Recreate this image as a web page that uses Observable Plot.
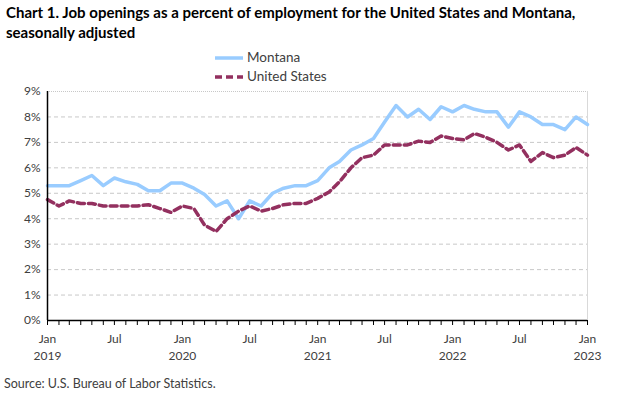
<!DOCTYPE html>
<html>
<head>
<meta charset="utf-8">
<script src="https://cdn.jsdelivr.net/npm/d3@7"></script>
<script src="https://cdn.jsdelivr.net/npm/@observablehq/plot@0.6"></script>
<style>
  body { margin: 0; background: #fff; font-family: Lato, "Open Sans", sans-serif; }
  #wrap { position: relative; width: 624px; height: 396px; overflow: hidden; }
  #title { position: absolute; left: 6px; top: 2px; font-weight: bold; font-size: 15px; line-height: 20px; color: #000; white-space: nowrap; }
  .leg { position: absolute; left: 215px; font-size: 13.5px; color: #404040; white-space: nowrap; }
  .leg svg { position: absolute; left: 0; top: 5px; }
  .leg span { position: absolute; left: 32px; top: 0; }
  #chart { position: absolute; left: 0; top: 83px; }
  #source { position: absolute; left: 4px; top: 376px; font-size: 12.5px; color: #404040; }
</style>
</head>
<body>
<div id="wrap">
  <div id="title">Chart 1. Job openings as a percent of employment for the United States and Montana,<br>seasonally adjusted</div>
  <div class="leg" style="top:49px"><svg width="28" height="8"><line x1="0" x2="28" y1="4" y2="4" stroke="#99CCFF" stroke-width="3.5"/></svg><span>Montana</span></div>
  <div class="leg" style="top:68px"><svg width="28" height="8"><line x1="0" x2="28" y1="4" y2="4" stroke="#93305F" stroke-width="3.5" stroke-dasharray="7,4"/></svg><span>United States</span></div>
  <div id="chart"></div>
  <div id="source">Source: U.S. Bureau of Labor Statistics.</div>
</div>
<script>
const startMonth = "2019-01";
const endMonth = "2023-01";
const seriesNames = ["Montana", "United States"];
const montana = [
  5.3, 5.3, 5.3, 5.5, 5.7, 5.3, 5.6, 5.45, 5.35, 5.1, 5.1, 5.4,
  5.4, 5.2, 4.95, 4.5, 4.7, 4.0, 4.7, 4.5, 5.0, 5.2, 5.3, 5.3,
  5.5, 6.0, 6.25, 6.7, 6.9, 7.15, 7.8, 8.45, 8.0, 8.3, 7.9, 8.4,
  8.2, 8.45, 8.3, 8.2, 8.2, 7.6, 8.2, 8.0, 7.7, 7.7, 7.5, 8.0,
  7.7
];
const unitedStates = [
  4.75, 4.5, 4.7, 4.6, 4.6, 4.5, 4.5, 4.5, 4.5, 4.55, 4.4, 4.25,
  4.5, 4.4, 3.75, 3.5, 4.0, 4.3, 4.5, 4.3, 4.4, 4.55, 4.6, 4.6,
  4.8, 5.05, 5.45, 6.0, 6.4, 6.5, 6.9, 6.9, 6.9, 7.05, 7.0, 7.25,
  7.15, 7.1, 7.35, 7.2, 7.0, 6.7, 6.9, 6.25, 6.6, 6.4, 6.5, 6.8,
  6.5
];
const yTicks = [0, 1, 2, 3, 4, 5, 6, 7, 8, 9];
const xTickLabels = [
  ["2019-01", "Jan\n2019"], ["2019-07", "Jul"],
  ["2020-01", "Jan\n2020"], ["2020-07", "Jul"],
  ["2021-01", "Jan\n2021"], ["2021-07", "Jul"],
  ["2022-01", "Jan\n2022"], ["2022-07", "Jul"],
  ["2023-01", "Jan\n2023"]
];

const parse = d3.utcParse("%Y-%m");
const months = d3.utcMonth.range(parse(startMonth), d3.utcMonth.offset(parse(endMonth), 1));
const data = [
  ...months.map((d, i) => ({date: d, value: montana[i], series: seriesNames[0]})),
  ...months.map((d, i) => ({date: d, value: unitedStates[i], series: seriesNames[1]}))
];
const labelMap = new Map(xTickLabels.map(([m, l]) => [+parse(m), l]));
const labelDates = xTickLabels.map(([m]) => parse(m));
const x0 = parse(startMonth), x1 = parse(endMonth);

const chart = Plot.plot({
  width: 624,
  height: 287,
  marginTop: 8,
  marginBottom: 50,
  marginLeft: 47,
  marginRight: 37,
  style: {fontFamily: "Lato, 'Open Sans', sans-serif", fontSize: "12px", color: "#404040", background: "transparent"},
  x: {type: "utc", domain: [x0, x1]},
  y: {domain: [0, 9]},
  marks: [
    Plot.ruleY(yTicks.filter(d => d > 0 && d < 9), {stroke: "#c8c8c8", strokeDasharray: "4,3", strokeWidth: 1}),
    Plot.ruleY([9], {stroke: "#c8c8c8", strokeWidth: 1, strokeDasharray: "1,1"}),
    Plot.ruleX([x1], {stroke: "#d9d9d9", strokeWidth: 1}),
    Plot.axisY({ticks: yTicks, tickSize: 0, tickPadding: 7, tickFormat: d => d + "%", fill: "#404040", label: null}),
    Plot.axisX({ticks: months, tickSize: 5, tickFormat: () => "", stroke: "#000", label: null}),
    Plot.axisX({ticks: labelDates, tickSize: 0, tickPadding: 10, tickFormat: d => labelMap.get(+d), lineHeight: 1.45, fill: "#404040", label: null}),
    Plot.line(data.filter(d => d.series === seriesNames[0]), {x: "date", y: "value", stroke: "#99CCFF", strokeWidth: 3.5, curve: "linear"}),
    Plot.line(data.filter(d => d.series === seriesNames[1]), {x: "date", y: "value", stroke: "#93305F", strokeWidth: 3.5, strokeDasharray: "7,4", curve: "linear"}),
    Plot.ruleX([x0], {stroke: "#000", strokeWidth: 1.5}),
    Plot.ruleY([0], {stroke: "#000", strokeWidth: 1.5})
  ]
});
document.getElementById("chart").appendChild(chart);
</script>
</body>
</html>
